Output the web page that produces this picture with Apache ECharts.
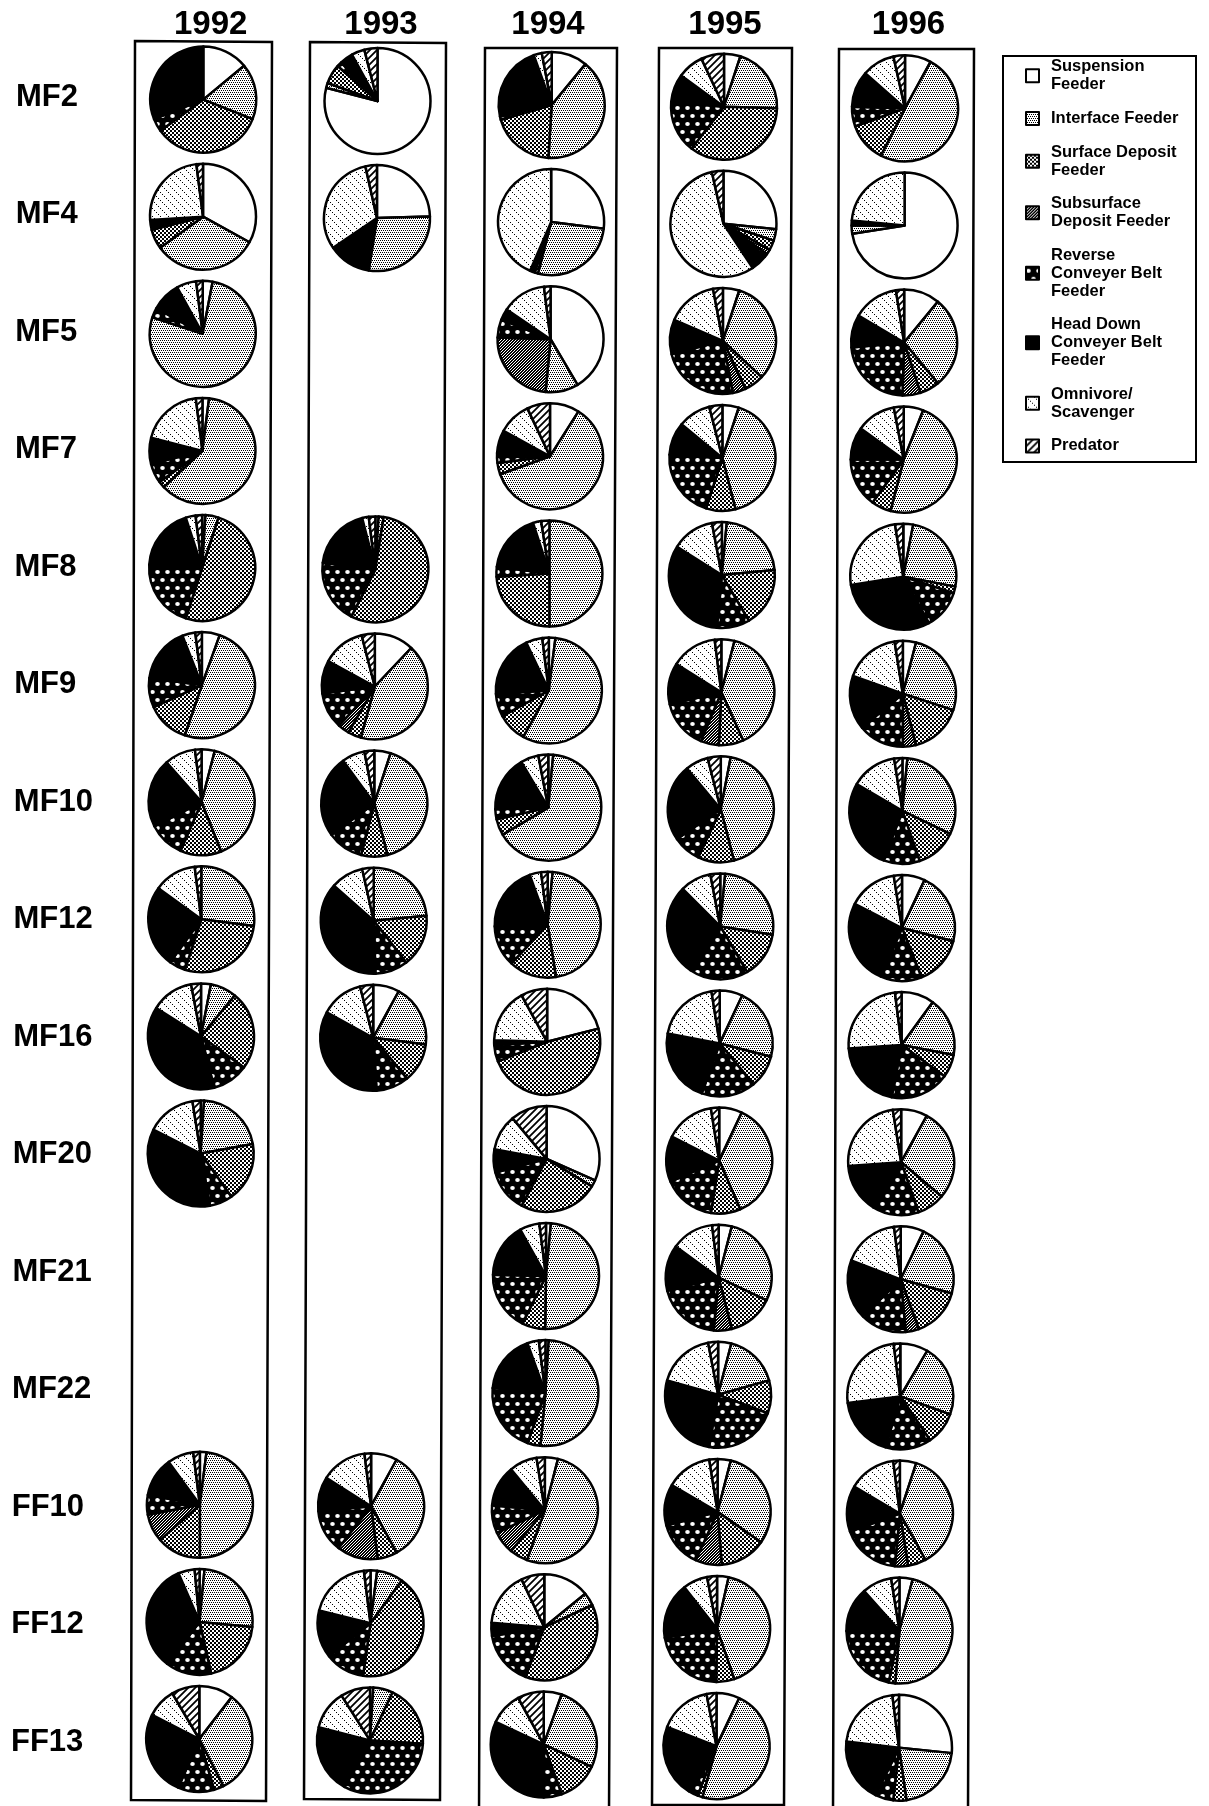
<!DOCTYPE html>
<html>
<head>
<meta charset="utf-8">
<script src="https://cdn.jsdelivr.net/npm/echarts@6/dist/echarts.min.js"></script>
<style>
  body { margin: 0; background: #fff; }
  #chart { width: 1209px; height: 1806px; }
</style>
</head>
<body>
<div id="chart"></div>
<script>
// feeding guilds, clockwise from 12 o'clock
var guilds = ['Suspension Feeder', 'Interface Feeder', 'Surface Deposit Feeder', 'Subsurface Deposit Feeder',
    'Reverse Conveyer Belt Feeder', 'Head Down Conveyer Belt Feeder', 'Omnivore/ Scavenger', 'Predator'];
var legendLabels = ['Suspension\nFeeder', 'Interface Feeder', 'Surface Deposit\nFeeder', 'Subsurface\nDeposit Feeder',
    'Reverse\nConveyer Belt\nFeeder', 'Head Down\nConveyer Belt\nFeeder', 'Omnivore/\nScavenger', 'Predator'];
var years = ['1992', '1993', '1994', '1995', '1996'];
var stations = ['MF2', 'MF4', 'MF5', 'MF7', 'MF8', 'MF9', 'MF10', 'MF12', 'MF16', 'MF20', 'MF21', 'MF22', 'FF10', 'FF12', 'FF13'];

// percent of each guild per station (null = no sample)
var v1992 = [
    [14, 17, 34, 0, 4, 31, 0, 0],
    [33, 32, 6, 0, 0, 3, 24, 2],
    [3, 77, 0, 0, 3, 9, 6, 2],
    [2, 61, 2, 0, 6, 8, 19, 2],
    [1, 4, 50, 0, 21, 19, 3, 2],
    [5.5, 50, 13, 0, 9, 17, 4, 2],
    [4, 40, 12.5, 0, 11, 21, 9.5, 2],
    [0, 27, 28, 0, 5, 25, 13, 2],
    [3, 8, 24, 0, 11, 38, 13, 3],
    [1, 21, 18, 0, 7, 35, 15, 2.5],
    null,
    null,
    [2, 48, 13.5, 8.5, 6, 12, 8, 2],
    [1.5, 25, 20, 0, 14, 33, 5, 1.5],
    [10.5, 32, 3, 0, 11, 26, 9, 8.5]
];
var v1993 = [
    [79, 1.5, 6, 0, 1.5, 4, 4, 4],
    [24.5, 28, 0, 0, 0, 13, 31, 3.5],
    null,
    null,
    [1, 1.5, 55, 0, 19.5, 19, 2, 2],
    [12, 42, 4, 3.5, 11, 10, 13, 4],
    [5, 41, 8, 0, 11, 25, 7, 3],
    [0, 23.5, 16, 0, 10, 37, 10, 3.5],
    [8, 19, 12, 0, 10, 34, 13, 4],
    null,
    null,
    null,
    [8, 34, 6, 12.5, 13, 10.5, 14, 2],
    [2, 8, 42, 0, 12, 14.5, 19, 2],
    [1, 6, 19, 0, 32, 21, 12, 9]
];
var v1994 = [
    [11, 40, 19.5, 0, 1, 23, 2.5, 3],
    [27, 27, 1, 0, 0, 1.5, 43.5, 0],
    [41.5, 10, 0, 24, 5.5, 3.5, 13.5, 2],
    [9, 60.5, 3.5, 0, 3, 7, 10, 7],
    [0, 50, 24, 0, 3, 18, 2.5, 2.5],
    [2, 56, 9, 0, 7, 19, 5, 2],
    [1.5, 65, 5, 0, 3, 17, 5.5, 3],
    [1.5, 46, 14.5, 0, 12.5, 20, 3.5, 2],
    [21, 0, 48, 0, 5, 1.5, 16.5, 8],
    [31.5, 2, 24, 0, 13, 7, 11, 11],
    [1.5, 48.5, 7, 0, 18, 16.5, 6, 2],
    [1, 50.5, 4, 0, 21, 18, 3.5, 2],
    [4, 51.5, 5.5, 7, 8.5, 12.5, 8.5, 2.5],
    [14, 4, 37.5, 0, 16.5, 4, 16.5, 7],
    [5.5, 26.5, 12.5, 0, 5.5, 32, 10, 8]
];
var v1995 = [
    [5, 20.5, 35, 0, 16, 8.5, 8, 7],
    [26.5, 3.5, 3, 1.5, 1, 5, 55.5, 3.5],
    [5, 32, 6, 4, 24, 10.5, 15.5, 3],
    [5, 41, 9, 0, 21, 10, 10, 4],
    [1.5, 22, 18, 0, 10, 32.5, 13, 3],
    [4, 39, 7.5, 5.5, 15, 12.5, 14, 2],
    [3, 43, 11, 0, 8.5, 23.5, 7, 4],
    [1.5, 26, 14, 0, 18, 28, 9.5, 3],
    [7, 22, 10, 0, 16.5, 22.5, 19.5, 2.5],
    [7, 36.5, 9, 0, 16, 14, 15, 2.5],
    [4, 28, 14, 5.5, 19.5, 14, 13, 2],
    [4, 16.5, 10, 0, 22, 26.5, 17.5, 3],
    [4, 30.5, 14, 8, 14, 12.5, 14, 2.5],
    [3.5, 41, 5.5, 0, 22, 17, 7.5, 3],
    [7, 47, 1.5, 0, 3, 22, 16, 3]
];
var v1996 = [
    [8, 49.5, 12, 0, 6, 11, 10, 3.5],
    [72.5, 2.5, 0, 0, 0, 1.5, 23.5, 0],
    [11, 28, 6, 5.5, 23, 10, 14, 2.5],
    [6, 48, 6, 0, 15, 10, 12, 3],
    [3, 25, 2, 0, 12, 30.5, 25, 2.5],
    [4, 26, 16, 4, 14, 16.5, 17, 2.5],
    [1.5, 30.5, 12.5, 0, 11, 27.5, 14, 2.5],
    [7, 22, 15, 0, 12.5, 26, 15, 2.5],
    [10, 18, 7, 0, 18, 21, 24, 2],
    [8, 28, 8.5, 0, 14, 15, 23.5, 2.5],
    [7, 22, 15, 4, 14, 18, 17, 2],
    [8.5, 22, 10, 0, 14, 18.5, 25, 2],
    [5, 37, 5.5, 4, 18, 14, 14.5, 2],
    [4, 47, 2, 0, 21.5, 13.5, 9, 2.5],
    [26.5, 21, 4, 0, 5.5, 19.5, 21, 2]
];
var byYear = [v1992, v1993, v1994, v1995, v1996];

var FONT = '"Liberation Sans", Arial, sans-serif';

function tile(w, h, bg, draw) {
    var c = document.createElement('canvas');
    c.width = w;
    c.height = h;
    var ctx = c.getContext('2d');
    ctx.fillStyle = bg;
    ctx.fillRect(0, 0, w, h);
    draw(ctx);
    return { image: c, repeat: 'repeat' };
}

var fills = [
    '#ffffff',
    // interface: light stipple
    tile(4, 4, '#fff', function (ctx) {
        ctx.fillStyle = '#000';
        ctx.fillRect(0, 0, 1, 1);
        ctx.fillRect(2, 0, 1, 1);
        ctx.fillRect(1, 2, 1, 1);
        ctx.fillRect(3, 2, 1, 1);
    }),
    // surface deposit: checkered
    tile(4, 4, '#fff', function (ctx) {
        ctx.fillStyle = '#000';
        ctx.fillRect(0, 0, 2, 2);
        ctx.fillRect(2, 2, 2, 2);
    }),
    // subsurface: dark stipple
    tile(3, 3, '#000', function (ctx) {
        ctx.fillStyle = '#fff';
        ctx.fillRect(0, 0, 1, 1);
        ctx.fillRect(2, 1, 1, 1);
        ctx.fillRect(1, 2, 1, 1);
    }),
    // reverse conveyer: white dots on black
    tile(10, 16, '#000', function (ctx) {
        ctx.fillStyle = '#fff';
        ctx.beginPath();
        ctx.ellipse(2.5, 4, 2.3, 1.9, 0, 0, Math.PI * 2);
        ctx.fill();
        ctx.beginPath();
        ctx.ellipse(7.5, 12, 2.3, 1.9, 0, 0, Math.PI * 2);
        ctx.fill();
    }),
    '#000000',
    // omnivore: dotted diagonals
    tile(8, 8, '#fff', function (ctx) {
        ctx.fillStyle = '#000';
        for (var i = 0; i < 8; i += 2) ctx.fillRect(i, i, 1, 1);
    }),
    // predator: hatching
    tile(7, 7, '#fff', function (ctx) {
        ctx.strokeStyle = '#000';
        ctx.lineWidth = 1.8;
        ctx.beginPath();
        ctx.moveTo(-1, 8); ctx.lineTo(8, -1);
        ctx.moveTo(-1, 1); ctx.lineTo(1, -1);
        ctx.moveTo(6, 8); ctx.lineTo(8, 6);
        ctx.stroke();
    })
];

// layout of the grid (pixels)
var colX = [203.3, 377.5, 551.7, 724, 905];
var colDrift = [-4, -7.5, -8, -7.5, -6];
var colY = [99.6, 101, 105, 106.7, 108.3];
var rowStep = 117.1;
var titleX = [210.7, 381, 548, 725, 908.5];
var boxes = [
    [[135, 41], [272, 42], [266, 1801], [131, 1800]],
    [[310, 42], [446, 43], [440, 1800], [304, 1799]],
    [[485, 48], [617, 48], [609, 1812], [479, 1812]],
    [[659, 48], [792, 48], [784, 1805], [652, 1805]],
    [[839, 49], [974, 49], [968, 1812], [833, 1812]]
];

var series = [];
byYear.forEach(function (rows, c) {
    rows.forEach(function (vals, r) {
        if (!vals) return;
        var data = [];
        vals.forEach(function (v, k) {
            if (v > 0) data.push({ name: guilds[k], value: v, itemStyle: { color: fills[k] } });
        });
        series.push({
            type: 'pie',
            name: stations[r] + ' ' + years[c],
            center: [colX[c] + colDrift[c] * r / 14, colY[c] + rowStep * r],
            radius: 53,
            startAngle: 90,
            clockwise: true,
            silent: true,
            avoidLabelOverlap: false,
            label: { show: false },
            labelLine: { show: false },
            emphasis: { disabled: true },
            itemStyle: { borderColor: '#000', borderWidth: 2.5 },
            data: data
        });
    });
});

var graphics = [];
boxes.forEach(function (pts) {
    graphics.push({
        type: 'polygon', shape: { points: pts }, silent: true,
        style: { fill: null, stroke: '#000', lineWidth: 2.5 }
    });
});
years.forEach(function (y, c) {
    graphics.push({
        type: 'text', x: titleX[c], y: 25, silent: true,
        style: { text: y, font: 'bold 33px ' + FONT, fill: '#000', textAlign: 'center', textVerticalAlign: 'middle' }
    });
});
stations.forEach(function (s, r) {
    graphics.push({
        type: 'text', x: 16 - 5 * r / 14, y: 97 + 117.5 * r, silent: true,
        style: { text: s, font: 'bold 31px ' + FONT, fill: '#000', textAlign: 'left', textVerticalAlign: 'middle' }
    });
});
graphics.push({
    type: 'rect', shape: { x: 1003, y: 56, width: 193, height: 406 }, silent: true,
    style: { fill: null, stroke: '#000', lineWidth: 2 }
});

var chart = echarts.init(document.getElementById('chart'), null, { renderer: 'canvas' });
chart.setOption({
    animation: false,
    backgroundColor: '#fff',
    legend: {
        data: guilds,
        orient: 'vertical',
        left: 1025,
        top: 58,
        padding: 0,
        itemWidth: 13,
        itemHeight: 13,
        itemGap: 16,
        icon: 'rect',
        selectedMode: false,
        itemStyle: { borderColor: '#000', borderWidth: 2 },
        formatter: function (name) {
            return legendLabels[guilds.indexOf(name)];
        },
        textStyle: {
            fontFamily: FONT, fontWeight: 'bold', fontSize: 16.5, lineHeight: 17.8,
            color: '#000', padding: [0, 0, 0, 7]
        }
    },
    graphic: graphics,
    series: series
});
</script>
</body>
</html>
